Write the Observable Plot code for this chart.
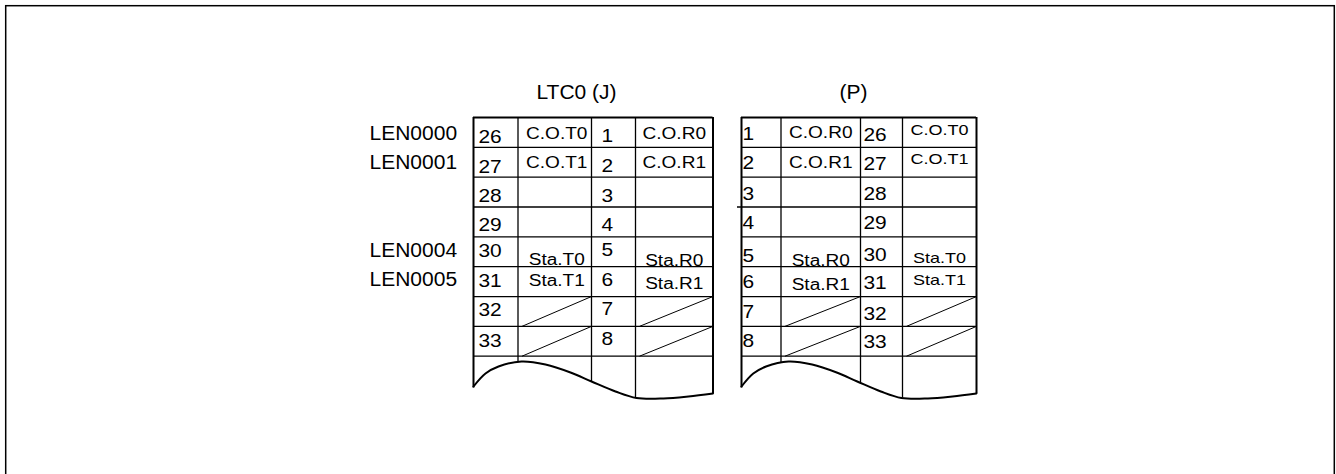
<!DOCTYPE html>
<html><head><meta charset="utf-8">
<script src="https://cdn.jsdelivr.net/npm/d3@7"></script>
<script src="https://cdn.jsdelivr.net/npm/@observablehq/plot@0.6"></script>
<style>html,body{margin:0;padding:0;background:#fff;} svg{display:block;}</style>
</head><body><div id="chart"></div>
<script>
// ---------- data ----------
const tableTitles = ["LTC0 (J)", "(P)"];
const lenLabels = ["LEN0000", "LEN0001", "", "", "LEN0004", "LEN0005", "", ""];
const jPinsA = [26, 27, 28, 29, 30, 31, 32, 33];
const jSignalsA = ["C.O.T0", "C.O.T1", "", "", "Sta.T0", "Sta.T1", "", ""];
const jPinsB = [1, 2, 3, 4, 5, 6, 7, 8];
const jSignalsB = ["C.O.R0", "C.O.R1", "", "", "Sta.R0", "Sta.R1", "", ""];
const pPinsA = [1, 2, 3, 4, 5, 6, 7, 8];
const pSignalsA = ["C.O.R0", "C.O.R1", "", "", "Sta.R0", "Sta.R1", "", ""];
const pPinsB = [26, 27, 28, 29, 30, 31, 32, 33];
const pSignalsB = ["C.O.T0", "C.O.T1", "", "", "Sta.T0", "Sta.T1", "", ""];
const unusedRows = [false, false, false, false, false, false, true, true];

// ---------- layout (pixels) ----------
const W = 1336, H = 474;
const ROWS = jPinsA.length, TOP = 117, BOTTOM = 355.7;
const RH = (BOTTOM - TOP) / ROWS;
const px2row = p => (p - TOP) / RH;
const waveDx = [0, 12, 25, 48, 72, 97, 118, 142, 163, 190, 215, 239.5];
const waveY  = [386, 373, 366, 361, 364, 372, 381, 391, 397.5, 398, 396, 393];
const stretchBySize = {"21": 1, "20": 1.05, "19": 1.1, "16": 1.19, "15": 1.2};

const tables = [
  {title: tableTitles[0], titleX: 576, cols: [473, 517.5, 591, 635, 712.5],
   pinsA: jPinsA, sigA: jSignalsA, pinsB: jPinsB, sigB: jSignalsB,
   padA: 5, padB: 10,
   numOffA: [4, 4.5, 5.5, 5.5, 10, 9.5, 10, 9.5], numOffB: [5, 5.4, 5.5, 5.5, 10.6, 11, 11.5, 11.4],
   offA: [8.6, 9.4, 0, 0, 1.5, 10.5, 0, 0], offB: [8.6, 9.4, 0, 0, 1, 8, 0, 0],
   shiftA: 2, sizeB: 16, stub: null},
  {title: tableTitles[1], titleX: 853, cols: [741, 780.5, 860, 902, 976],
   pinsA: pPinsA, sigA: pSignalsA, pinsB: pPinsB, sigB: pSignalsB,
   padA: 1, padB: 3,
   numOffA: [7.3, 7.7, 7.5, 7.5, 4.5, 8.4, 8.4, 9], numOffB: [6.6, 7, 7.5, 7.5, 6, 7.7, 6.7, 8.4],
   offA: [9, 9.4, 0, 0, 1, 7, 0, 0], offB: [12.3, 12.7, 0, 0, 3.5, 11.5, 0, 0],
   shiftA: 0, sizeB: 15, stub: {row: 3, x: 737}}
];

function waveAt(t, x) {
  const w = t.cols[4] - t.cols[0];
  const dx = (x - t.cols[0]) * 239.5 / w;
  for (let i = 1; i < waveDx.length; i++) {
    if (dx <= waveDx[i]) {
      const f = (dx - waveDx[i-1]) / (waveDx[i] - waveDx[i-1]);
      return waveY[i-1] + f * (waveY[i] - waveY[i-1]);
    }
  }
  return waveY[waveY.length - 1];
}

// ---------- build records ----------
const hLines = [], vLines = [], waves = [], slashes = [], nums = [], sigs = [], sigsSmall = [], titles = [];
tables.forEach((t, ti) => {
  const c = t.cols;
  titles.push({x: t.titleX, y: px2row(98), text: t.title});
  for (let r = 0; r <= ROWS; r++) {
    const x1 = (t.stub && t.stub.row === r) ? t.stub.x : c[0];
    hLines.push({x1, x2: c[4], y: r, w: r === 0 ? 2 : 1.3});
  }
  c.forEach((x, ci) => {
    const bottom = ci === 0 ? 387.5 : waveAt(t, x);
    vLines.push({x, y1: 0, y2: px2row(bottom), w: (ci === 0 || ci === 4) ? 2 : 1.3});
  });
  const w = c[4] - c[0];
  waveDx.forEach((d, i) => waves.push({t: ti, x: c[0] + d * w / 239.5, y: px2row(waveY[i])}));
  for (let r = 0; r < ROWS; r++) {
    nums.push({x: c[0] + t.padA, y: r + 1 - t.numOffA[r] / RH, text: String(t.pinsA[r])});
    nums.push({x: c[2] + t.padB, y: r + 1 - t.numOffB[r] / RH, text: String(t.pinsB[r])});
    if (t.sigA[r]) sigs.push({x: (c[1] + c[2]) / 2 + t.shiftA, y: r + 1 - t.offA[r] / RH, text: t.sigA[r]});
    if (t.sigB[r]) (t.sizeB === 16 ? sigs : sigsSmall).push({x: (c[3] + c[4]) / 2, y: r + 1 - t.offB[r] / RH, text: t.sigB[r]});
    if (unusedRows[r]) {
      slashes.push({x1: c[1] + 4, y1: r + 1, x2: c[2], y2: r});
      slashes.push({x1: c[3] + 4, y1: r + 1, x2: c[4], y2: r});
    }
  }
});
const lenOff = [7, 7.7, 0, 0, 10, 10.5, 0, 0];
const lens = lenLabels.map((s, r) => ({x: 369, y: r + 1 - lenOff[r] / RH, text: s})).filter(d => d.text);

const frame = [{x1: 5.7, x2: 1334.3, y1: px2row(5.7), y2: px2row(500)}];

const plot = Plot.plot({
  width: W, height: H, margin: 0,
  x: {type: "linear", domain: [0, W], range: [0, W], axis: null},
  y: {type: "linear", domain: [0, ROWS], range: [TOP, BOTTOM], axis: null},
  style: {fontFamily: "'Liberation Sans', Arial, sans-serif", background: "#fff", color: "#000", overflow: "hidden"},
  marks: [
    Plot.rect(frame, {x1: "x1", x2: "x2", y1: "y1", y2: "y2", fill: "none", stroke: "#000", strokeWidth: 1.5}),
    Plot.ruleY(hLines, {y: "y", x1: "x1", x2: "x2", stroke: "#000", strokeWidth: "w"}),
    Plot.ruleX(vLines, {x: "x", y1: "y1", y2: "y2", stroke: "#000", strokeWidth: "w"}),
    Plot.link(slashes, {x1: "x1", y1: "y1", x2: "x2", y2: "y2", stroke: "#000", strokeWidth: 1}),
    Plot.line(waves, {x: "x", y: "y", z: "t", curve: "catmull-rom", stroke: "#000", strokeWidth: 2}),
    Plot.text(titles, {x: "x", y: "y", text: "text", fontSize: 21, textAnchor: "middle", lineAnchor: "bottom", fill: "#000"}),
    Plot.text(lens, {x: "x", y: "y", text: "text", fontSize: 20, textAnchor: "start", lineAnchor: "bottom", fill: "#000"}),
    Plot.text(nums, {x: "x", y: "y", text: "text", fontSize: 19, textAnchor: "start", lineAnchor: "bottom", fill: "#000"}),
    Plot.text(sigs, {x: "x", y: "y", text: "text", fontSize: 16, textAnchor: "middle", lineAnchor: "bottom", fill: "#000"}),
    Plot.text(sigsSmall, {x: "x", y: "y", text: "text", fontSize: 15, textAnchor: "middle", lineAnchor: "bottom", fill: "#000"})
  ]
});
document.getElementById("chart").appendChild(plot);

// horizontal stretch of text to match the reference's wide glyphs
plot.querySelectorAll("text").forEach(t => {
  let el = t, size = null;
  while (el && el !== plot) {
    const fs = el.getAttribute && el.getAttribute("font-size");
    if (fs) { size = parseFloat(fs); break; }
    el = el.parentNode;
  }
  if (size == null) size = parseFloat(getComputedStyle(t).fontSize);
  const k = stretchBySize[String(Math.round(size))] || 1;
  if (k === 1) return;
  const len = t.getComputedTextLength();
  if (len > 0) {
    t.setAttribute("textLength", (len * k).toFixed(2));
    t.setAttribute("lengthAdjust", "spacingAndGlyphs");
  }
});
</script>
</body></html>
